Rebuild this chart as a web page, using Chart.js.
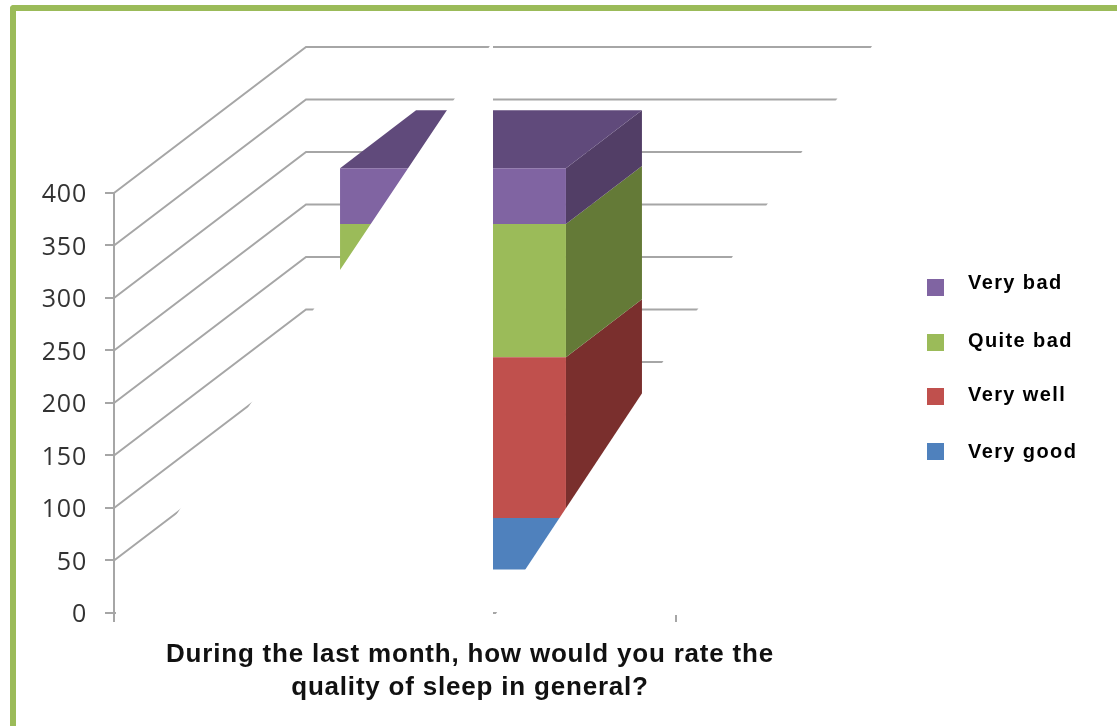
<!DOCTYPE html>
<html>
<head>
<meta charset="utf-8">
<title>Quality of sleep</title>
<script src="https://cdn.jsdelivr.net/npm/chart.js@4/dist/chart.umd.min.js"></script>
<style>
  html, body { margin: 0; padding: 0; background: #fff; overflow: hidden; }
  #frame { position: absolute; left: 10px; top: 5px; width: 1107px; height: 721px; box-sizing: border-box;
           border-top: 6px solid #9bbb59; border-left: 6px solid #9bbb59; border-top-left-radius: 4px; }
  #chart { position: absolute; left: 0; top: 0; }
</style>
</head>
<body>
<div id="frame"></div>
<canvas id="chart" width="1117" height="726"></canvas>
<script>
const categories = ["During the last month"];
const titleLines = ["During the last month, how would you rate the", "quality of sleep in general?"];
const veryGood = [50];
const veryWell = [153];
const quiteBad = [127];
const veryBad = [53];

const FRONT = "#8064a2";
const GRID = "#a6a6a6";
const TEXT = "#333333";

// bar sits part way into the floor of the 3d box
const barShift = { x: 58, y: -42.5 };
const barDepth = { x: 76, y: -58 };
const wallDepth = { x: 192, y: -146 };

const series = [
  { label: "Very good", data: veryGood, color: "#4f81bd", side: "#2f5482", legendY: 452, boxY: 443 },
  { label: "Very well", data: veryWell, color: "#c0504d", side: "#7a2f2d", legendY: 395, boxY: 388 },
  { label: "Quite bad", data: quiteBad, color: "#9bbb59", side: "#647a37", legendY: 341, boxY: 334 },
  { label: "Very bad", data: veryBad, color: FRONT, side: "#523e66", top: "#604a7b", legendY: 283, boxY: 279 },
];

function poly(ctx, pts, fill) {
  ctx.fillStyle = fill;
  ctx.beginPath();
  pts.forEach((p, i) => i ? ctx.lineTo(p[0], p[1]) : ctx.moveTo(p[0], p[1]));
  ctx.closePath();
  ctx.fill();
}

const box3d = {
  id: "box3d",
  afterLayout(chart) {
    // title is centred on the picture, not on the plot
    chart.titleBlock.left = 0;
    chart.titleBlock.right = 940;
  },
  beforeDraw(chart) {
    // source text is stretched a little wider than the fonts here
    chart.ctx.letterSpacing = "0.8px";
  },
  beforeDatasetsDraw(chart) {
    const ctx = chart.ctx;
    const y = chart.scales.y;
    const x0 = y.right;

    ctx.save();
    ctx.strokeStyle = GRID;
    ctx.lineWidth = 2;
    y.ticks.filter(t => t.value > 0).forEach(t => {
      const py = y.getPixelForValue(t.value);
      ctx.beginPath();
      ctx.moveTo(x0, py);
      ctx.lineTo(x0 + wallDepth.x, py + wallDepth.y);
      ctx.lineTo(x0 + wallDepth.x + 570, py + wallDepth.y);
      ctx.stroke();
    });

    chart.data.datasets.forEach((ds, i) => {
      const el = chart.getDatasetMeta(i).data[0];
      const s = series[i];
      const r = el.x + el.width / 2 + barShift.x;
      const l = el.x - el.width / 2 + barShift.x;
      const t = el.y + barShift.y;
      const b = el.base + barShift.y;
      poly(ctx, [[r, t], [r + barDepth.x, t + barDepth.y], [r + barDepth.x, b + barDepth.y], [r, b]], s.side);
      if (s.top) {
        poly(ctx, [[l, t], [r, t], [r + barDepth.x, t + barDepth.y], [l + barDepth.x, t + barDepth.y]], s.top);
      }
    });
    ctx.restore();
  },
  beforeDatasetDraw(chart) {
    chart.ctx.save();
    chart.ctx.translate(barShift.x, barShift.y);
  },
  afterDatasetDraw(chart) {
    chart.ctx.restore();
  },
  afterDatasetsDraw(chart) {
    const ctx = chart.ctx;
    // the source picture has two white diagonal cut-outs over the box
    const cutA = yy => 340 + (270 - yy) / 1.495;
    const cutB = yy => 525 + (570 - yy) / 1.51;
    poly(ctx, [[cutA(35), 35], [493, 35], [493, 615], [116, 615], [116, 606], [cutA(606), 606]], "#fff");
    poly(ctx, [[cutB(35), 35], [885, 35], [885, 615], [cutB(615), 615]], "#fff");

    // legend
    ctx.save();
    ctx.textBaseline = "middle";
    ctx.textAlign = "left";
    ctx.font = "bold 20px 'Liberation Sans'";
    ctx.letterSpacing = "1.4px";
    series.forEach(s => {
      ctx.fillStyle = s.color;
      ctx.fillRect(927, s.boxY, 17, 17);
      ctx.fillStyle = "#000";
      ctx.fillText(s.label, 968, s.legendY);
    });
    ctx.restore();
  },
};

new Chart(document.getElementById("chart"), {
  type: "bar",
  data: {
    labels: categories,
    datasets: series.map(s => ({
      label: s.label,
      data: s.data,
      backgroundColor: s.color,
      clip: false,
    })),
  },
  options: {
    responsive: false,
    animation: false,
    barPercentage: 0.402,
    categoryPercentage: 1,
    layout: { padding: { top: 193, left: 0, right: 441, bottom: 21.5 } },
    scales: {
      x: {
        stacked: true,
        afterFit: s => { s.height = 9; },
        border: { color: GRID, width: 2 },
        grid: { color: GRID, lineWidth: 2, drawOnChartArea: false, tickLength: 9 },
        ticks: { display: false },
      },
      y: {
        stacked: true,
        min: 0,
        max: 400,
        afterFit: s => { s.width = 114; },
        border: { color: GRID, width: 2 },
        grid: { color: GRID, lineWidth: 2, drawOnChartArea: false, tickLength: 9 },
        ticks: {
          stepSize: 50,
          padding: 18,
          labelOffset: 2,
          color: TEXT,
          font: { family: "'Open Sans'", size: 25 },
        },
      },
    },
    plugins: {
      legend: { display: false },
      tooltip: { enabled: false },
      title: {
        display: true,
        position: "bottom",
        text: titleLines,
        color: "#111",
        font: { family: "'Liberation Sans'", size: 26, weight: "bold", lineHeight: 1.27 },
        padding: { top: 16.5, bottom: 0 },
      },
    },
  },
  plugins: [box3d],
});
</script>
</body>
</html>
